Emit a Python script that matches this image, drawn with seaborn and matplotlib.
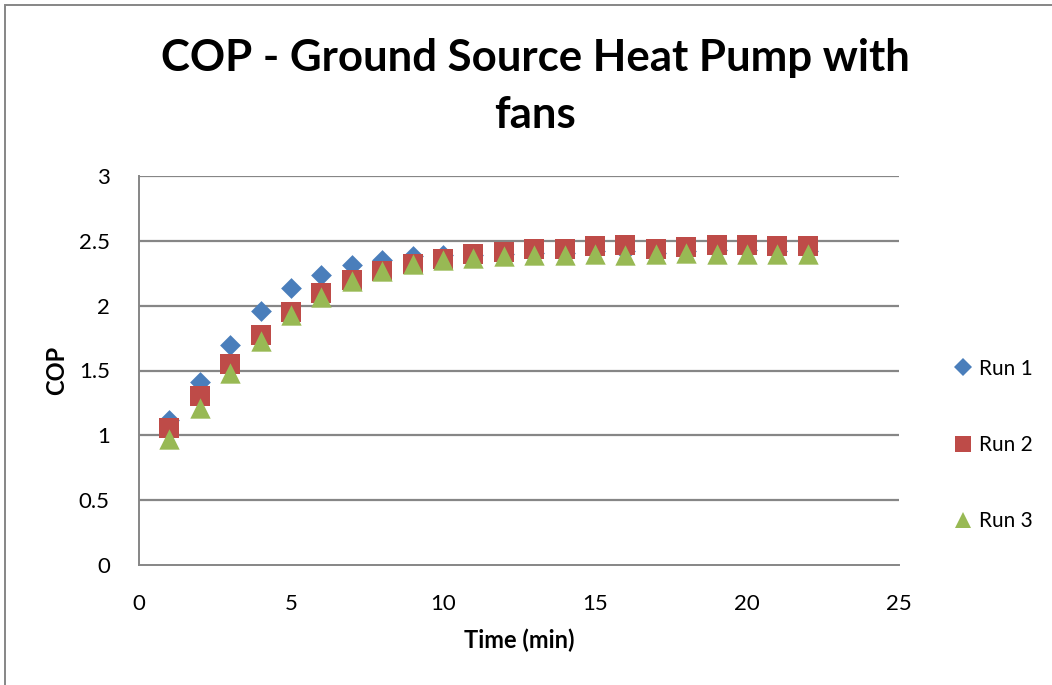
import matplotlib
matplotlib.use("Agg")
import matplotlib.pyplot as plt
import seaborn as sns
import pandas as pd
from matplotlib.lines import Line2D
from matplotlib.patches import Rectangle

# Elapsed time (min)
time_min = list(range(1, 23))

# Coefficient of performance for each run
run1 = [1.12, 1.41, 1.70, 1.96, 2.14, 2.24, 2.31, 2.35, 2.38, 2.39, 2.39,
        2.40, 2.41, 2.41, 2.42, 2.42, 2.41, 2.42, 2.43, 2.43, 2.42, 2.42]
run2 = [1.06, 1.30, 1.55, 1.77, 1.95, 2.10, 2.20, 2.27, 2.32, 2.36, 2.40,
        2.415, 2.435, 2.44, 2.46, 2.465, 2.44, 2.45, 2.47, 2.47, 2.46, 2.46]
run3 = [0.97, 1.21, 1.48, 1.73, 1.93, 2.07, 2.19, 2.27, 2.32, 2.35, 2.37,
        2.385, 2.39, 2.39, 2.40, 2.39, 2.395, 2.41, 2.40, 2.40, 2.40, 2.40]

run_names = ["Run 1", "Run 2", "Run 3"]
run_colors = ["#4A7EBB", "#BE4B48", "#98B954"]
run_markers = ["D", "s", "^"]
run_sizes = [112, 215, 215]

x_ticks = [0, 5, 10, 15, 20, 25]
y_ticks = [0, 0.5, 1, 1.5, 2, 2.5, 3]
y_tick_labels = ["0", "0.5", "1", "1.5", "2", "2.5", "3"]

df = pd.DataFrame({
    "Time (min)": time_min * 3,
    "COP": run1 + run2 + run3,
    "Run": [n for n in run_names for _ in time_min],
})

sns.set_theme(style="white")
plt.rcParams["font.family"] = ["Lato", "DejaVu Sans"]
plt.rcParams["text.color"] = "black"
plt.rcParams["axes.labelcolor"] = "black"

W, H = 1052, 685
fig = plt.figure(figsize=(W / 100, H / 100), dpi=100)
ax = fig.add_axes([139 / W, 1 - 565 / H, (899 - 139) / W, (565 - 176) / H])

for name, color, marker, size in zip(run_names, run_colors, run_markers, run_sizes):
    sns.scatterplot(data=df[df["Run"] == name], x="Time (min)", y="COP",
                    color=color, marker=marker, s=size, linewidth=0,
                    ax=ax, legend=False, zorder=3)

ax.set_xlim(0, 25)
ax.set_ylim(0, 3)
ax.set_xticks(x_ticks)
ax.set_yticks(y_ticks)
ax.set_yticklabels(y_tick_labels)
ax.tick_params(axis="both", length=0, labelsize=16, colors="black")
ax.tick_params(axis="x", pad=21)
ax.tick_params(axis="y", pad=21)

ax.grid(False)
for yv in y_ticks[1:]:
    ax.axhline(yv, color="#868686", linewidth=1.6, zorder=1)

for side in ["top", "right"]:
    ax.spines[side].set_visible(False)
for side in ["left", "bottom"]:
    ax.spines[side].set_color("#868686")
    ax.spines[side].set_linewidth(1.4)

ax.set_xlabel("Time (min)", fontsize=17, fontweight="bold", labelpad=10)
ax.set_ylabel("COP", fontsize=17, fontweight="bold", labelpad=8)

fig.text(535 / W, 1 - 58 / H, "COP - Ground Source Heat Pump with",
         ha="center", va="center", fontsize=31.5, fontweight="bold")
fig.text(535 / W, 1 - 115 / H, "fans",
         ha="center", va="center", fontsize=31.5, fontweight="bold")

handles = [Line2D([], [], linestyle="none", marker=m, color=c,
                  markersize=(s ** 0.5) * 0.82, markeredgewidth=0)
           for m, c, s in zip(run_markers, run_colors, run_sizes)]
ax.legend(handles, run_names, loc="center left",
          bbox_to_anchor=(944 / W, 1 - 445 / H), bbox_transform=fig.transFigure,
          frameon=False, fontsize=15, labelspacing=2.7, handlelength=1.0,
          handletextpad=0.3, borderaxespad=0)

# Outer chart frame
fig.add_artist(Rectangle((5 / W, -0.05), 1.2, 1 - 5 / H + 0.05,
                         transform=fig.transFigure, fill=False,
                         edgecolor="#868686", linewidth=1.4))

fig.savefig("out.png", dpi=100)
